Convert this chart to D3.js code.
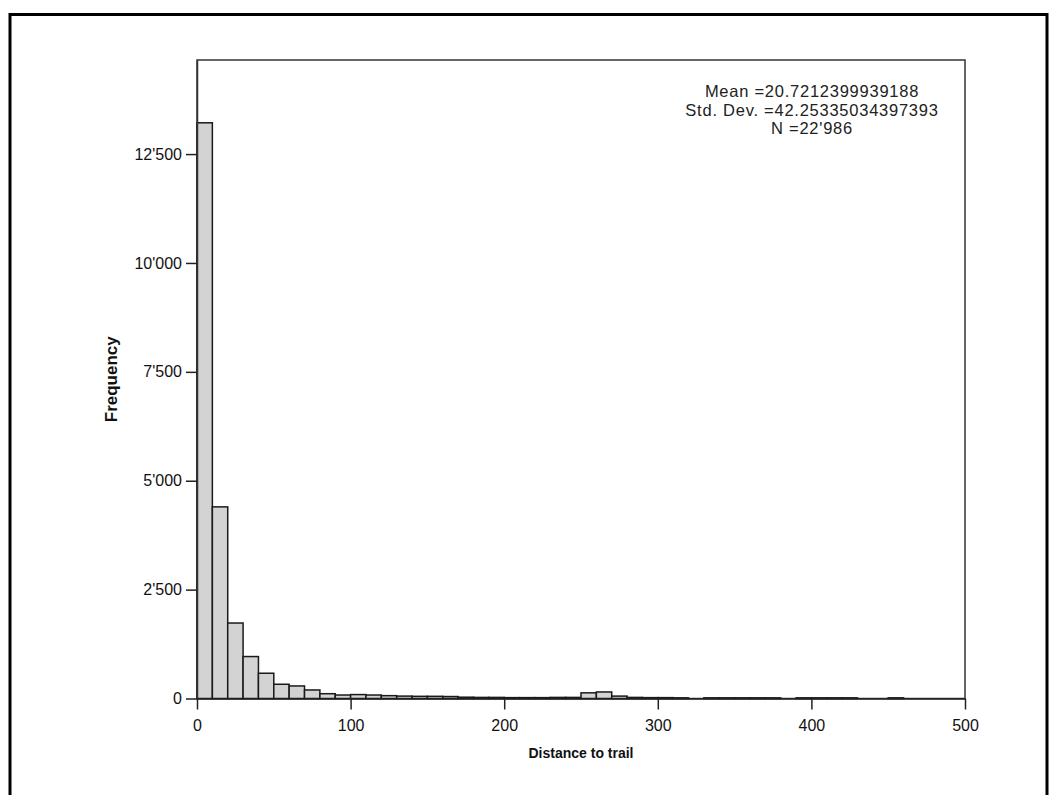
<!DOCTYPE html>
<html>
<head>
<meta charset="utf-8">
<script src="https://cdn.jsdelivr.net/npm/d3@7"></script>
<style>
  html, body { margin: 0; padding: 0; background: #fff; }
  svg { display: block; }
</style>
</head>
<body>
<script>
// ---- data ----
const binWidth = 10;
const binStarts = d3.range(0, 500, 10);
const counts = [
  13218, 4400, 1733, 963, 580, 327, 288, 196, 110, 80,
  90, 80, 65, 55, 50, 50, 45, 30, 25, 25,
  20, 20, 20, 25, 25, 130, 150, 55, 25, 20,
  20, 15, 0, 15, 15, 15, 15, 15, 0, 15,
  15, 15, 15, 0, 0, 15, 0, 0, 0, 0
];
const yTickValues = [0, 2500, 5000, 7500, 10000, 12500];
const yTickLabels = ["0", "2'500", "5'000", "7'500", "10'000", "12'500"];
const xTickValues = [0, 100, 200, 300, 400, 500];
const xTickLabels = ["0", "100", "200", "300", "400", "500"];
const statsLines = ["Mean =20.7212399939188", "Std. Dev. =42.25335034397393", "N =22'986"];
const xTitle = "Distance to trail";
const yTitle = "Frequency";

// ---- layout ----
const W = 1054, H = 795;
const plot = { left: 197, top: 60, right: 965, bottom: 698.5 };
const sans = "'Liberation Sans', Arial, sans-serif";

const svg = d3.select("body").append("svg").attr("width", W).attr("height", H);

// outer frame
svg.append("rect")
  .attr("x", 10).attr("y", 14.5).attr("width", 1037).attr("height", 800)
  .attr("fill", "none").attr("stroke", "#000").attr("stroke-width", 3);

const x = d3.scaleLinear().domain([0, 500]).range([plot.left, plot.right]);
const y = d3.scaleLinear().domain([0, 14660]).range([plot.bottom, plot.top]);

// plot frame
svg.append("rect")
  .attr("x", plot.left).attr("y", plot.top)
  .attr("width", plot.right - plot.left).attr("height", plot.bottom - plot.top)
  .attr("fill", "none").attr("stroke", "#333").attr("stroke-width", 1.5);

// bars
const bins = binStarts.map((s, i) => ({ x0: s, x1: s + binWidth, n: counts[i] }))
  .filter(d => d.n > 0);
svg.append("g").selectAll("rect").data(bins).join("rect")
  .attr("x", d => x(d.x0))
  .attr("y", d => y(d.n))
  .attr("width", d => x(d.x1) - x(d.x0))
  .attr("height", d => y(0) - y(d.n))
  .attr("fill", "#d3d3d3")
  .attr("stroke", "#1a1a1a")
  .attr("stroke-width", 1.5);

// y axis
const yAxis = d3.axisLeft(y).tickValues(yTickValues)
  .tickFormat((d, i) => yTickLabels[i]).tickSize(11).tickSizeOuter(0).tickPadding(4);
const gy = svg.append("g").attr("transform", `translate(${plot.left},0)`).call(yAxis);
gy.select(".domain").attr("stroke", "#333").attr("stroke-width", 1.5);
gy.selectAll(".tick line").attr("stroke", "#222").attr("stroke-width", 1.5);
gy.selectAll(".tick text").attr("font-family", sans).attr("font-size", 16).attr("fill", "#111");

// x axis
const xAxis = d3.axisBottom(x).tickValues(xTickValues)
  .tickFormat((d, i) => xTickLabels[i]).tickSize(11).tickSizeOuter(0).tickPadding(10);
const gx = svg.append("g").attr("transform", `translate(0,${plot.bottom})`).call(xAxis);
gx.select(".domain").attr("stroke", "#222").attr("stroke-width", 1.5);
gx.selectAll(".tick line").attr("stroke", "#222").attr("stroke-width", 1.5);
gx.selectAll(".tick text").attr("font-family", sans).attr("font-size", 16).attr("fill", "#111");

// axis titles
svg.append("text")
  .attr("x", (plot.left + plot.right) / 2).attr("y", 758)
  .attr("text-anchor", "middle")
  .attr("font-family", sans)
  .attr("font-weight", "bold").attr("font-size", 14).attr("fill", "#111")
  .text(xTitle);

svg.append("text")
  .attr("transform", `translate(117,${(plot.top + plot.bottom) / 2}) rotate(-90)`)
  .attr("text-anchor", "middle")
  .attr("font-family", sans)
  .attr("font-weight", "bold").attr("font-size", 17).attr("fill", "#111")
  .text(yTitle);

// stats text
svg.append("g").selectAll("text").data(statsLines).join("text")
  .attr("x", 812).attr("y", (d, i) => 97 + i * 18.5)
  .attr("text-anchor", "middle")
  .attr("font-family", sans)
  .attr("font-size", 16.5).attr("letter-spacing", 0.75).attr("fill", "#222")
  .text(d => d);
</script>
</body>
</html>
